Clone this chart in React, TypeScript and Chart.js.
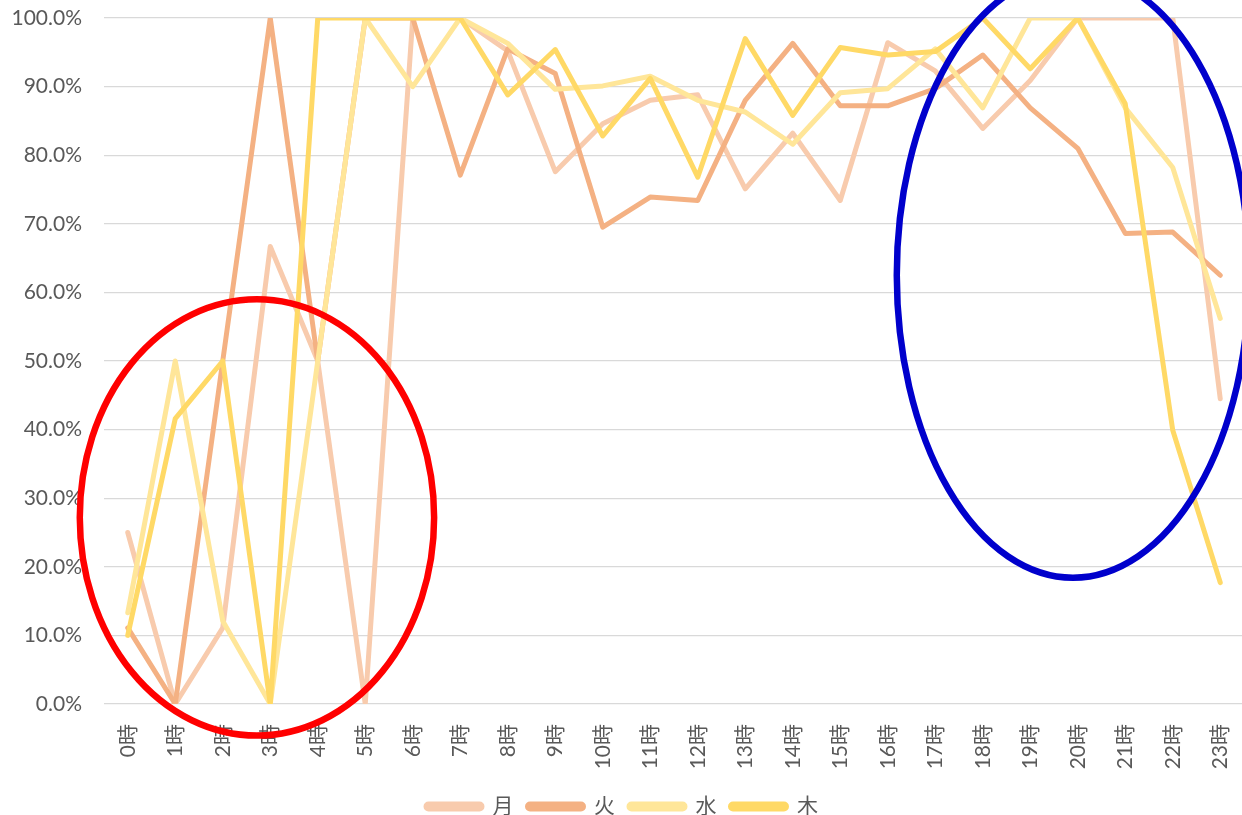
import React, { useEffect, useRef } from "react";
import { Chart, registerables } from "chart.js";

Chart.register(...registerables);

const hours = ["0時","1時","2時","3時","4時","5時","6時","7時","8時","9時","10時","11時","12時","13時","14時","15時","16時","17時","18時","19時","20時","21時","22時","23時"];

const seriesNames = ["月", "火", "水", "木"];

const monValues = [25.0, 0, 11.1, 66.7, 50.0, 0, 100, 100, 95.2, 77.6, 84.6, 88.0, 88.8, 75.1, 83.2, 73.4, 96.4, 92.3, 83.9, 90.9, 100, 100, 100, 44.5];
const tueValues = [11.1, 0, 50.0, 100, 50.0, 100, 100, 77.1, 95.5, 91.9, 69.5, 73.9, 73.4, 88.0, 96.3, 87.2, 87.2, 89.7, 94.6, 86.9, 81.0, 68.6, 68.8, 62.5];
const wedValues = [13.3, 50.0, 12.1, 0, 50.0, 100, 90.0, 100, 96.3, 89.6, 90.1, 91.5, 88.0, 86.3, 81.6, 89.1, 89.7, 95.5, 86.9, 100, 100, 86.9, 78.2, 56.2];
const thuValues = [10.0, 41.6, 50.0, 0, 100, 100, 100, 100, 88.8, 95.4, 82.8, 91.2, 76.8, 97.0, 85.8, 95.7, 94.6, 95.1, 100, 92.6, 100, 87.5, 39.9, 17.7];

const seriesColors = ["#F8CBAD", "#F4B183", "#FFE699", "#FFD966"];

const yTicks = [0, 10, 20, 30, 40, 50, 60, 70, 80, 90, 100];

// Highlight ellipses in data units: [center category index, center value, radius in categories, radius in value]
const redEllipse = [2.72, 27.2, 3.73, 31.8];
const blueEllipse = [19.9, 62.5, 3.71, 44.1];
const ellipseColors = ["#FF0000", "#0000CC"];

const FONT = "Lato, 'Noto Sans CJK JP', sans-serif";

const ellipsePlugin = {
  id: "ellipses",
  afterDraw(chart: any) {
    const xs = chart.scales.x;
    const ys = chart.scales.y;
    const ctx = chart.ctx;
    const list = [redEllipse, blueEllipse];
    list.forEach((e, i) => {
      const cx = xs.getPixelForValue(e[0]);
      const cy = ys.getPixelForValue(e[1]);
      const rx = Math.abs(xs.getPixelForValue(e[0] + e[2]) - cx);
      const ry = Math.abs(ys.getPixelForValue(e[1] + e[3]) - cy);
      ctx.save();
      ctx.beginPath();
      ctx.ellipse(cx, cy, rx, ry, 0, 0, Math.PI * 2);
      ctx.lineWidth = 6.5;
      ctx.strokeStyle = ellipseColors[i];
      ctx.stroke();
      ctx.restore();
    });
  },
};

export default function App() {
  const ref = useRef<HTMLCanvasElement | null>(null);

  useEffect(() => {
    document.body.style.margin = "0";
    document.body.style.overflow = "hidden";
    const all = [monValues, tueValues, wedValues, thuValues];
    const chart = new Chart(ref.current as HTMLCanvasElement, {
      type: "line",
      data: {
        labels: hours,
        datasets: all.map((vals, i) => ({
          label: seriesNames[i],
          data: vals,
          borderColor: seriesColors[i],
          backgroundColor: seriesColors[i],
          borderWidth: 5,
          pointRadius: 0,
          pointHoverRadius: 0,
          tension: 0,
          borderJoinStyle: "round" as const,
          borderCapStyle: "round" as const,
          order: 3 - i,
        })),
      },
      options: {
        animation: false,
        responsive: false,
        layout: { padding: { top: 18, left: 0, right: 0, bottom: 0 } },
        plugins: {
          tooltip: { enabled: false },
          legend: {
            position: "bottom",
            labels: {
              sort: (a: any, b: any) => a.datasetIndex - b.datasetIndex,
              boxWidth: 56,
              boxHeight: 5,
              padding: 14,
              color: "#595959",
              font: { family: FONT, size: 21 },
              useBorderRadius: true,
              borderRadius: 2.5,
            },
          },
        },
        scales: {
          x: {
            offset: true,
            grid: { display: false },
            border: { display: false },
            ticks: {
              color: "#595959",
              font: { family: FONT, size: 21 },
              minRotation: 90,
              maxRotation: 90,
              autoSkip: false,
              padding: 12,
            },
            afterFit: (s: any) => { s.height = 78; s.paddingLeft = 0; s.paddingRight = 0; },
          },
          y: {
            min: 0,
            max: 100,
            afterBuildTicks: (s: any) => { s.ticks = yTicks.map((v) => ({ value: v })); },
            grid: { color: "#D9D9D9", lineWidth: 1.3, drawTicks: false },
            border: { display: false },
            ticks: {
              color: "#595959",
              font: { family: FONT, size: 21 },
              padding: 22,
              callback: (v: any) => Number(v).toFixed(1) + "%",
            },
            afterFit: (s: any) => { s.width = 104; s.paddingTop = 0; s.paddingBottom = 0; },
          },
        },
      },
      plugins: [ellipsePlugin],
    });
    return () => chart.destroy();
  }, []);

  return (
    <div style={{ position: "absolute", left: 0, top: 0, width: 1244, height: 815, overflow: "hidden" }}>
      <canvas ref={ref} width={1244} height={827} style={{ width: 1244, height: 827, display: "block" }} />
    </div>
  );
}
